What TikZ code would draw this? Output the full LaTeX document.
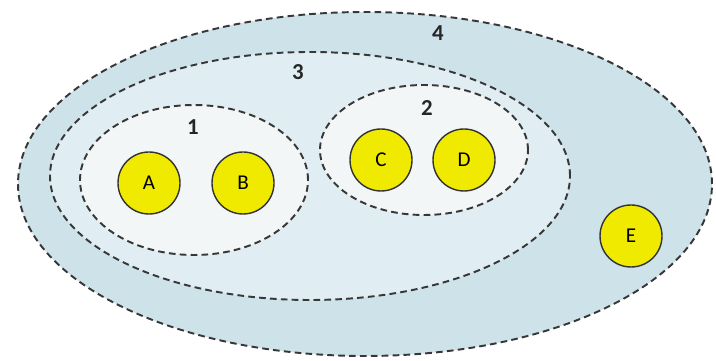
\documentclass[tikz,border=0pt]{standalone}
\usepackage{fontspec}
\setmainfont{Carlito}
\usetikzlibrary{shapes.geometric}
\definecolor{outerblue}{RGB}{206,226,233}
\definecolor{innerblue}{RGB}{224,237,242}
\definecolor{paleset}{RGB}{243,246,247}
\definecolor{dashgray}{RGB}{55,55,55}
\definecolor{dotyellow}{RGB}{240,234,0}

\begin{document}
\begin{tikzpicture}[
  setline/.style={ellipse, draw=dashgray, line width=1.1pt, dash pattern=on 3.8pt off 2.4pt, inner sep=0pt},
  element/.style={circle, draw=black!80, line width=0.8pt, fill=dotyellow, minimum size=1.24cm, inner sep=0pt, font=\fontsize{12}{14}\selectfont},
  setlabel/.style={font=\fontsize{13}{15}\selectfont\bfseries, text=black!85}
]
  \useasboundingbox (0,0) rectangle (14.32,7.22);

  % Sets, outermost first
  \node[setline, fill=outerblue, minimum width=13.88cm, minimum height=6.88cm] (set4) at (7.30, 3.54) {};
  \node[setline, fill=innerblue, minimum width=10.40cm, minimum height=4.96cm] (set3) at (6.20, 3.70) {};
  \node[setline, fill=paleset, minimum width=4.56cm, minimum height=3.00cm] (set1) at (3.88, 3.62) {};
  \node[setline, fill=paleset, minimum width=4.16cm, minimum height=2.60cm] (set2) at (8.48, 4.22) {};

  % Set labels
  \node[setlabel] (lab1) at (3.86, 4.68) {1};
  \node[setlabel] (lab2) at (8.54, 5.06) {2};
  \node[setlabel] (lab3) at (5.96, 5.78) {3};
  \node[setlabel] (lab4) at (8.76, 6.56) {4};

  % Elements
  \node[element] (A) at (2.98, 3.56) {A};
  \node[element] (B) at (4.86, 3.56) {B};
  \node[element] (C) at (7.62, 4.02) {C};
  \node[element] (D) at (9.28, 4.02) {D};
  \node[element] (E) at (12.62, 2.50) {E};

\end{tikzpicture}
\end{document}
